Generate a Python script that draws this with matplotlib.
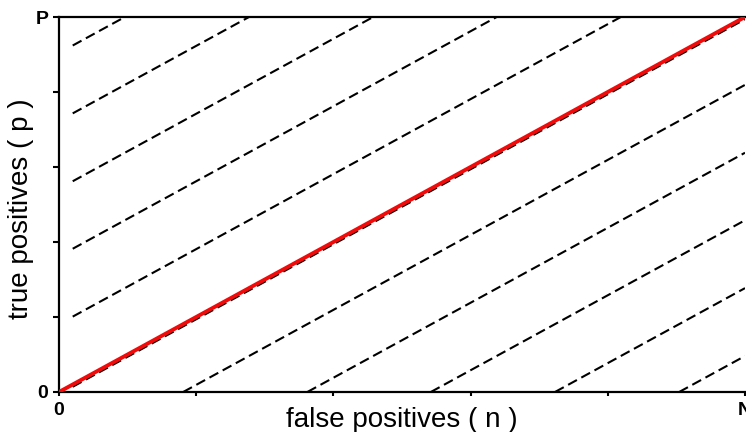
import numpy as np
import matplotlib.pyplot as plt

# ROC space, normalised: x = n / N, y = p / P
tick_pos = [0, 0.2, 0.4, 0.6, 0.8, 1.0]
x_tick_labels = ['0', '', '', '', '', 'N']
y_tick_labels = ['0', '', '', '', '', 'P']

# iso-accuracy lines y = x + offset
offsets = [0.904, 0.723, 0.542, 0.362, 0.181, -0.006,
           -0.181, -0.362, -0.542, -0.723, -0.904]
x_start = 0.02  # dashed lines begin a little right of the y axis

# the red line: random classifier diagonal
diag_x = [0, 1]
diag_y = [0, 1]

plt.rcParams['font.family'] = ['Liberation Sans', 'DejaVu Sans']

fig = plt.figure(figsize=(7.46, 4.32), dpi=100)
ax = fig.add_axes([59 / 746, 40 / 432, 686 / 746, 375 / 432])

for c in offsets:
    x0 = max(x_start, -c)
    x1 = min(1.0, 1.0 - c)
    ax.plot([x0, x1], [x0 + c, x1 + c], color='black', lw=1.5,
            linestyle=(0, (4.8, 2.4)), solid_capstyle='butt', zorder=2)

ax.plot(diag_x, diag_y, color='#f00a0a', lw=2.8, zorder=3,
        solid_capstyle='butt')

ax.set_xlim(0, 1)
ax.set_ylim(0, 1)
ax.set_xticks(tick_pos)
ax.set_xticklabels(x_tick_labels, fontsize=14, fontweight='bold')
ax.set_yticks(tick_pos)
ax.set_yticklabels(y_tick_labels, fontsize=14, fontweight='bold')
ax.tick_params(axis='y', direction='out', length=4.3, width=1.5, pad=3.5)
ax.tick_params(axis='x', direction='out', length=3, width=1.5, pad=4.5)

for side in ['left', 'bottom', 'top']:
    ax.spines[side].set_linewidth(1.6)
ax.spines['right'].set_visible(False)

ax.set_xlabel('false positives ( n )', fontsize=20)
ax.xaxis.label.set_va('baseline')
ax.xaxis.set_label_coords(0.5, -(427 - 392) / 375)

ax.set_ylabel('true positives ( p )', fontsize=20)
ax.yaxis.set_label_coords(-(59 - 34) / 686, 0.49)

fig.savefig('out.png', dpi=100)
